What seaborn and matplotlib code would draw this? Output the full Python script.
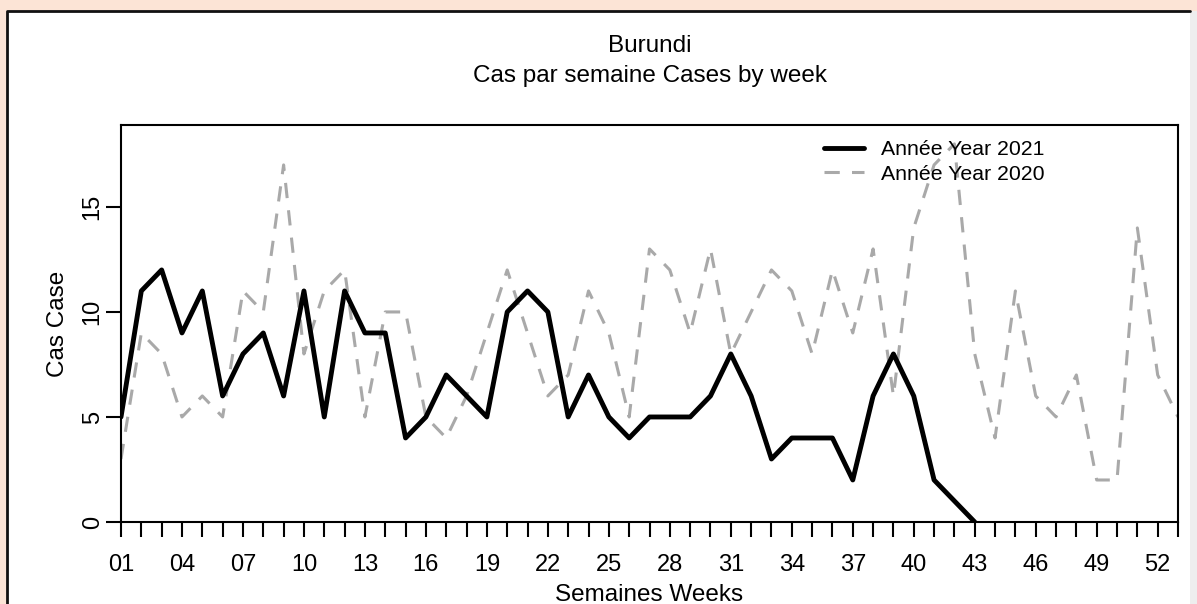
import numpy as np
import pandas as pd
import matplotlib
matplotlib.use("Agg")
import matplotlib.pyplot as plt
import seaborn as sns
from matplotlib.patches import Rectangle
from matplotlib.lines import Line2D

# weekly cases
weeks_2021 = list(range(1, 44))
cases_2021 = [5, 11, 12, 9, 11, 6, 8, 9, 6, 11, 5, 11, 9, 9, 4, 5, 7, 6, 5, 10,
              11, 10, 5, 7, 5, 4, 5, 5, 5, 6, 8, 6, 3, 4, 4, 4, 2, 6, 8, 6, 2, 1, 0]
weeks_2020 = list(range(1, 54))
cases_2020 = [3, 9, 8, 5, 6, 5, 11, 10, 17, 8, 11, 12, 5, 10, 10, 5, 4, 6, 9, 12,
              9, 6, 7, 11, 9, 5, 13, 12, 9, 13, 8, 10, 12, 11, 8, 12, 9, 13, 6, 14,
              17, 18, 8, 4, 11, 6, 5, 7, 2, 2, 14, 7, 5]
week_ticks = list(range(1, 54))
week_labels = [f"{w:02d}" if (w - 1) % 3 == 0 else "" for w in week_ticks]
y_ticks = [0, 5, 10, 15]
series_labels = ["Année Year 2021", "Année Year 2020"]

df21 = pd.DataFrame({"week": weeks_2021, "cases": cases_2021})
df20 = pd.DataFrame({"week": weeks_2020, "cases": cases_2020})

sns.set_style("white")
plt.rcParams["font.family"] = ["Liberation Sans", "DejaVu Sans"]
plt.rcParams["text.color"] = "black"
plt.rcParams["axes.labelcolor"] = "black"
plt.rcParams["xtick.color"] = "black"
plt.rcParams["ytick.color"] = "black"

W, H = 1197, 604
fig = plt.figure(figsize=(W / 100, H / 100), dpi=100, facecolor="#FCE4D6")

# white panel with dark top/left border and soft right shadow
fig.patches.append(Rectangle((7 / W, 0), (1190 - 7) / W, (H - 11) / H,
                             transform=fig.transFigure, facecolor="white",
                             edgecolor="none", zorder=-2))
fig.patches.append(Rectangle((1190 / W, 0), 7 / W, (H - 11) / H,
                             transform=fig.transFigure, facecolor="#EEEEEE",
                             edgecolor="none", zorder=-2))
fig.lines.append(Line2D([7 / W, 7 / W, 1190 / W], [0, (H - 11) / H, (H - 11) / H],
                        transform=fig.transFigure, color="#111111", lw=2, zorder=-1))

ax = fig.add_axes([121 / W, 1 - 522 / H, (1178 - 121) / W, (522 - 125) / H])
ax.set_zorder(1)

sns.lineplot(data=df20, x="week", y="cases", color="#A9A9A9", lw=2.2,
             linestyle=(0, (5, 4)), ax=ax)
sns.lineplot(data=df21, x="week", y="cases", color="black", lw=3.5, ax=ax)

ax.set_xlim(1, 53)
ax.set_ylim(0, 18.9)
ax.set_xticks(week_ticks)
ax.set_xticklabels(week_labels, fontsize=17)
ax.set_yticks(y_ticks)
ax.set_yticklabels([str(v) for v in y_ticks], fontsize=17, rotation=90, va="center")
ax.tick_params(axis="both", bottom=True, left=True, length=11, width=1.5,
               color="black", direction="out")
ax.tick_params(axis="x", pad=12)
ax.tick_params(axis="y", pad=1.5)
for s in ax.spines.values():
    s.set_color("black")
    s.set_linewidth(1.5)

ax.set_xlabel("Semaines Weeks", fontsize=17.5, labelpad=6)
ax.set_ylabel("Cas Case", fontsize=17.5, labelpad=9)

fig.text(649.5 / W, 1 - 46 / H, "Burundi", ha="center", va="center", fontsize=17.5)
fig.text(649.5 / W, 1 - 76 / H, "Cas par semaine Cases by week", ha="center",
         va="center", fontsize=17.5)

handles = [Line2D([], [], color="black", lw=3.5),
           Line2D([], [], color="#A9A9A9", lw=2.2, linestyle=(0, (5, 4)))]
ax.legend(handles, series_labels, loc="upper left", bbox_to_anchor=(0.657, 0.983),
          frameon=False, fontsize=15.3, handlelength=1.9, handletextpad=0.8,
          labelspacing=0.25, borderaxespad=0)

fig.savefig("out.png", dpi=100, facecolor=fig.get_facecolor())
